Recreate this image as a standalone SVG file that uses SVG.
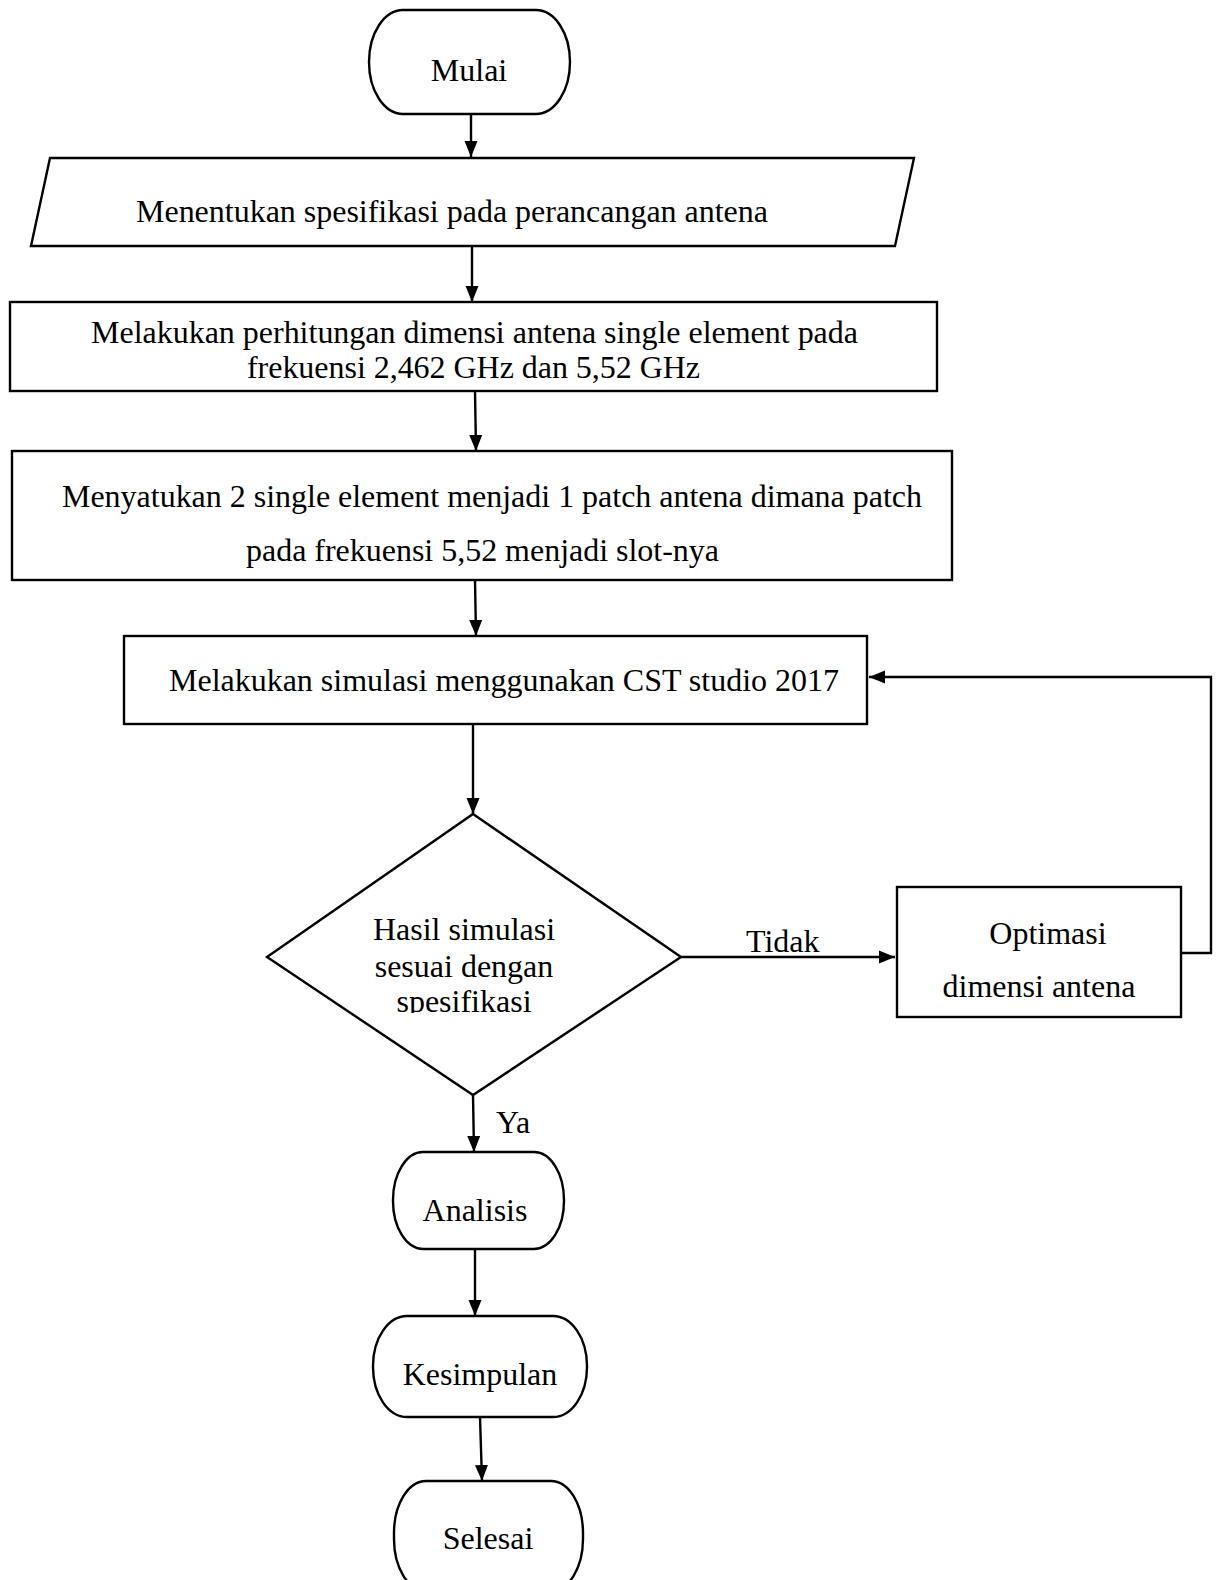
<svg xmlns="http://www.w3.org/2000/svg" width="1221" height="1580" viewBox="0 0 1221 1580">
<style>
.s{fill:#fff;stroke:#000;stroke-width:2.4}
.t{font-family:"Liberation Serif","Times New Roman",serif;font-size:32px;fill:#000}
.m{text-anchor:middle}
.c{fill:none;stroke:#000;stroke-width:2.4}
</style>
<defs>
<marker id="ah" markerWidth="16" markerHeight="14" refX="16" refY="7" orient="auto" markerUnits="userSpaceOnUse"><path d="M0,0.5 L16,7 L0,13.5 z" fill="#000"/></marker>
<clipPath id="clipSpes"><rect x="300" y="980" width="300" height="33"/></clipPath>
</defs>
<rect width="1221" height="1580" fill="#fff"/>
<g id="connectors">
<line class="c" x1="471" y1="114" x2="471" y2="157" marker-end="url(#ah)"/>
<line class="c" x1="472" y1="246" x2="472" y2="302" marker-end="url(#ah)"/>
<line class="c" x1="475" y1="391" x2="476" y2="451" marker-end="url(#ah)"/>
<line class="c" x1="475" y1="580" x2="476" y2="636" marker-end="url(#ah)"/>
<line class="c" x1="473" y1="724" x2="473" y2="814" marker-end="url(#ah)"/>
<line class="c" x1="681" y1="957" x2="895" y2="957" marker-end="url(#ah)"/>
<polyline class="c" points="1181,953 1211,953 1211,677 869,677" marker-end="url(#ah)"/>
<line class="c" x1="473" y1="1095" x2="474" y2="1152" marker-end="url(#ah)"/>
<line class="c" x1="475" y1="1249" x2="475" y2="1316" marker-end="url(#ah)"/>
<line class="c" x1="480" y1="1417" x2="482" y2="1481" marker-end="url(#ah)"/>
<text class="t" x="746" y="952">Tidak</text>
<text class="t" x="496" y="1133">Ya</text>
</g>
<g id="mulai">
<rect class="s" x="369" y="10" width="201" height="104" rx="34" ry="52"/>
<text class="t m" x="469" y="81">Mulai</text>
</g>
<g id="spesifikasi">
<polygon class="s" points="50,158 914,158 895,246 31,246"/>
<text class="t" x="136" y="222" textLength="632">Menentukan spesifikasi pada perancangan antena</text>
</g>
<g id="perhitungan">
<rect class="s" x="10" y="302" width="927" height="89"/>
<text class="t" x="91" y="343" textLength="767">Melakukan perhitungan dimensi antena single element pada</text>
<text class="t" x="247" y="378" textLength="453">frekuensi 2,462 GHz dan 5,52 GHz</text>
</g>
<g id="menyatukan">
<rect class="s" x="12" y="451" width="940" height="129"/>
<text class="t" x="62" y="507" textLength="860">Menyatukan 2 single element menjadi 1 patch antena dimana patch</text>
<text class="t" x="246" y="561" textLength="473">pada frekuensi 5,52 menjadi slot-nya</text>
</g>
<g id="simulasi">
<rect class="s" x="124" y="636" width="743" height="88"/>
<text class="t" x="169" y="691" textLength="670">Melakukan simulasi menggunakan CST studio 2017</text>
</g>
<g id="keputusan">
<polygon class="s" points="473,814 681,957 473,1095 267,957"/>
<text class="t m" x="464" y="940">Hasil simulasi</text>
<text class="t m" x="464" y="977">sesuai dengan</text>
<text class="t m" x="464" y="1012" clip-path="url(#clipSpes)">spesifikasi</text>
</g>
<g id="optimasi">
<rect class="s" x="897" y="887" width="284" height="130"/>
<text class="t m" x="1048" y="944">Optimasi</text>
<text class="t m" x="1039" y="997">dimensi antena</text>
</g>
<g id="analisis">
<rect class="s" x="393" y="1152" width="171" height="97" rx="30" ry="48"/>
<text class="t m" x="475" y="1221">Analisis</text>
</g>
<g id="kesimpulan">
<rect class="s" x="373" y="1316" width="214" height="101" rx="34" ry="50"/>
<text class="t m" x="480" y="1385">Kesimpulan</text>
</g>
<g id="selesai">
<rect class="s" x="394" y="1481" width="189" height="110" rx="32" ry="52"/>
<text class="t m" x="488" y="1549">Selesai</text>
</g>
</svg>
